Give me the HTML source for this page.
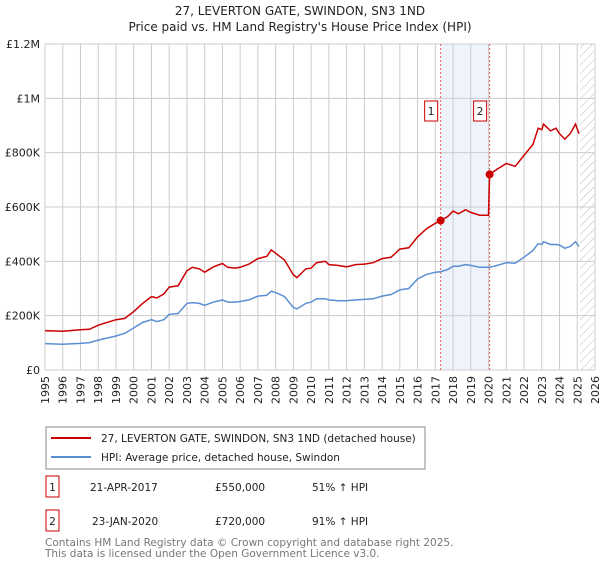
<!DOCTYPE html>
<html><head><meta charset="utf-8"><style>
body{margin:0;background:#fff;font-family:"DejaVu Sans","Liberation Sans",sans-serif;}
svg text{font-family:"DejaVu Sans","Liberation Sans",sans-serif;}
</style></head><body>
<svg id="chart" width="600" height="560" xmlns="http://www.w3.org/2000/svg">
<defs><pattern id="hatch" width="6" height="6" patternUnits="userSpaceOnUse" patternTransform="rotate(45)"><line x1="0" y1="0" x2="0" y2="6" stroke="#bbb" stroke-width="1"/></pattern></defs>
<text x="300" y="15" font-size="12" text-anchor="middle" fill="#222">27, LEVERTON GATE, SWINDON, SN3 1ND</text>
<text x="300" y="31" font-size="12" text-anchor="middle" fill="#222">Price paid vs. HM Land Registry's House Price Index (HPI)</text>
<g id="grid"></g><g id="series"></g><g id="axes"></g>
<rect x="46" y="427" width="379" height="42" fill="#fff" stroke="#888"/>
<line x1="51" y1="438" x2="91" y2="438" stroke="#cc0000" stroke-width="2"/>
<text x="101" y="442" font-size="10.5" fill="#222">27, LEVERTON GATE, SWINDON, SN3 1ND (detached house)</text>
<line x1="51" y1="457" x2="91" y2="457" stroke="#5b8fd4" stroke-width="2"/>
<text x="101" y="461" font-size="10.5" fill="#222">HPI: Average price, detached house, Swindon</text>
<g font-size="10.5" fill="#222">
<rect x="46" y="476" width="13" height="21" fill="#fff" stroke="#cc0000"/><text x="52.5" y="491" text-anchor="middle">1</text>
<text x="90" y="491">21-APR-2017</text><text x="215" y="491">£550,000</text><text x="312" y="491">51% ↑ HPI</text></g>
<g font-size="10.5" fill="#222">
<rect x="46" y="510" width="13" height="21" fill="#fff" stroke="#cc0000"/><text x="52.5" y="525" text-anchor="middle">2</text>
<text x="92" y="525">23-JAN-2020</text><text x="215" y="525">£720,000</text><text x="312" y="525">91% ↑ HPI</text></g>
<text x="45" y="546" font-size="10.5" fill="#777">Contains HM Land Registry data © Crown copyright and database right 2025.</text>
<text x="45" y="557" font-size="10.5" fill="#777">This data is licensed under the Open Government Licence v3.0.</text>
</svg>
<script>
const yTicks=[0,200000,400000,600000,800000,1000000,1200000];
const yTickLabels=["£0","£200K","£400K","£600K","£800K","£1M","£1.2M"];
const years=[1995,1996,1997,1998,1999,2000,2001,2002,2003,2004,2005,2006,2007,2008,2009,2010,2011,2012,2013,2014,2015,2016,2017,2018,2019,2020,2021,2022,2023,2024,2025,2026];
const redT=[1995,1996,1997,1997.5,1998,1999,1999.5,2000,2000.5,2001,2001.3,2001.7,2002,2002.5,2003,2003.3,2003.7,2004,2004.5,2005,2005.3,2005.7,2006,2006.5,2007,2007.5,2007.75,2008,2008.5,2009,2009.2,2009.7,2010,2010.3,2010.8,2011,2011.5,2012,2012.5,2013,2013.5,2014,2014.5,2015,2015.5,2016,2016.5,2017,2017.3,2017.7,2018,2018.3,2018.7,2019,2019.5,2020,2020.06,2020.5,2021,2021.5,2022,2022.5,2022.8,2023,2023.1,2023.5,2023.8,2024,2024.3,2024.6,2024.9,2025.1];
const redV=[145,143,148,150,165,185,190,215,245,270,265,280,305,310,365,378,372,360,380,392,378,375,378,390,410,418,442,430,405,350,340,372,375,395,400,388,385,380,388,390,395,410,415,445,450,490,520,540,550,565,585,575,590,580,570,570,720,740,760,750,790,830,890,885,905,880,890,870,850,870,905,870];
const blueT=redT;
const blueV=[97,95,98,101,110,125,135,155,175,185,178,185,205,208,245,248,245,238,250,258,250,250,252,258,272,275,290,285,270,230,225,245,250,262,262,258,255,255,258,260,262,272,278,295,300,335,352,360,362,370,382,382,388,385,378,378,378,385,395,393,415,440,465,462,472,462,462,460,448,455,472,455];
const saleT=[2017.3,2020.06];
const saleV=[550000,720000];
const saleLabels=["1","2"];
const X0=45,X1=595,Y0=370,Y1=44;
const xs=t=>X0+(t-1995)/(2026-1995)*(X1-X0);
const ys=v=>Y0-v/1200000*(Y0-Y1);
const NS="http://www.w3.org/2000/svg";
function mk(tag,attrs,parent){const e=document.createElementNS(NS,tag);for(const k in attrs)e.setAttribute(k,attrs[k]);parent.appendChild(e);return e;}
const grid=document.getElementById('grid'),ser=document.getElementById('series'),ax=document.getElementById('axes');
let band=mk('rect',{x:xs(saleT[0]),y:Y1,width:xs(saleT[1])-xs(saleT[0]),height:Y0-Y1,fill:'#eef3fc'},grid);


let h=mk('rect',{x:xs(2025.15),y:Y1,width:X1-xs(2025.15),height:Y0-Y1,fill:'url(#hatch)'},grid);


years.forEach(y=>{let l=mk('line',{x1:xs(y),x2:xs(y),y1:Y1,y2:Y0,stroke:'#ccc','stroke-width':1},grid);


let t=mk('text',{x:0,y:0,'font-size':11,fill:'#222','text-anchor':'end',transform:`translate(${xs(y)+4},376) rotate(-90)`},ax);t.textContent=y;

});
yTicks.forEach((v,i)=>{let l=mk('line',{x1:X0,x2:X1,y1:ys(v),y2:ys(v),stroke:'#ccc','stroke-width':1},grid);


let t=mk('text',{x:40,y:ys(v)+4,'font-size':11,fill:'#222','text-anchor':'end'},ax);t.textContent=yTickLabels[i];

});
saleT.forEach((t,i)=>{let l=mk('line',{x1:xs(t),x2:xs(t),y1:Y1,y2:Y0,stroke:'#e06060','stroke-dasharray':'2,2','stroke-width':1},grid);


let r=mk('rect',{x:xs(t)-16,y:101,width:13,height:20,fill:'#fff',stroke:'#cc0000'},ax);


let tx=mk('text',{x:xs(t)-9.5,y:115,'font-size':10.5,'text-anchor':'middle',fill:'#222'},ax);tx.textContent=saleLabels[i];

});
let pb=blueT.map((t,i)=>xs(t).toFixed(1)+','+ys(blueV[i]*1000).toFixed(1)).join(' ');
let bl=mk('polyline',{points:pb,fill:'none',stroke:'#5b8fd4','stroke-width':1.5},ser);


let pr=redT.map((t,i)=>xs(t).toFixed(1)+','+ys(redV[i]*1000).toFixed(1)).join(' ');
let rl=mk('polyline',{points:pr,fill:'none',stroke:'#cc0000','stroke-width':1.5},ser);


saleT.forEach((t,i)=>{let c=mk('circle',{cx:xs(t),cy:ys(saleV[i]),r:4,fill:'#cc0000'},ser);

});
</script>
</body></html>
